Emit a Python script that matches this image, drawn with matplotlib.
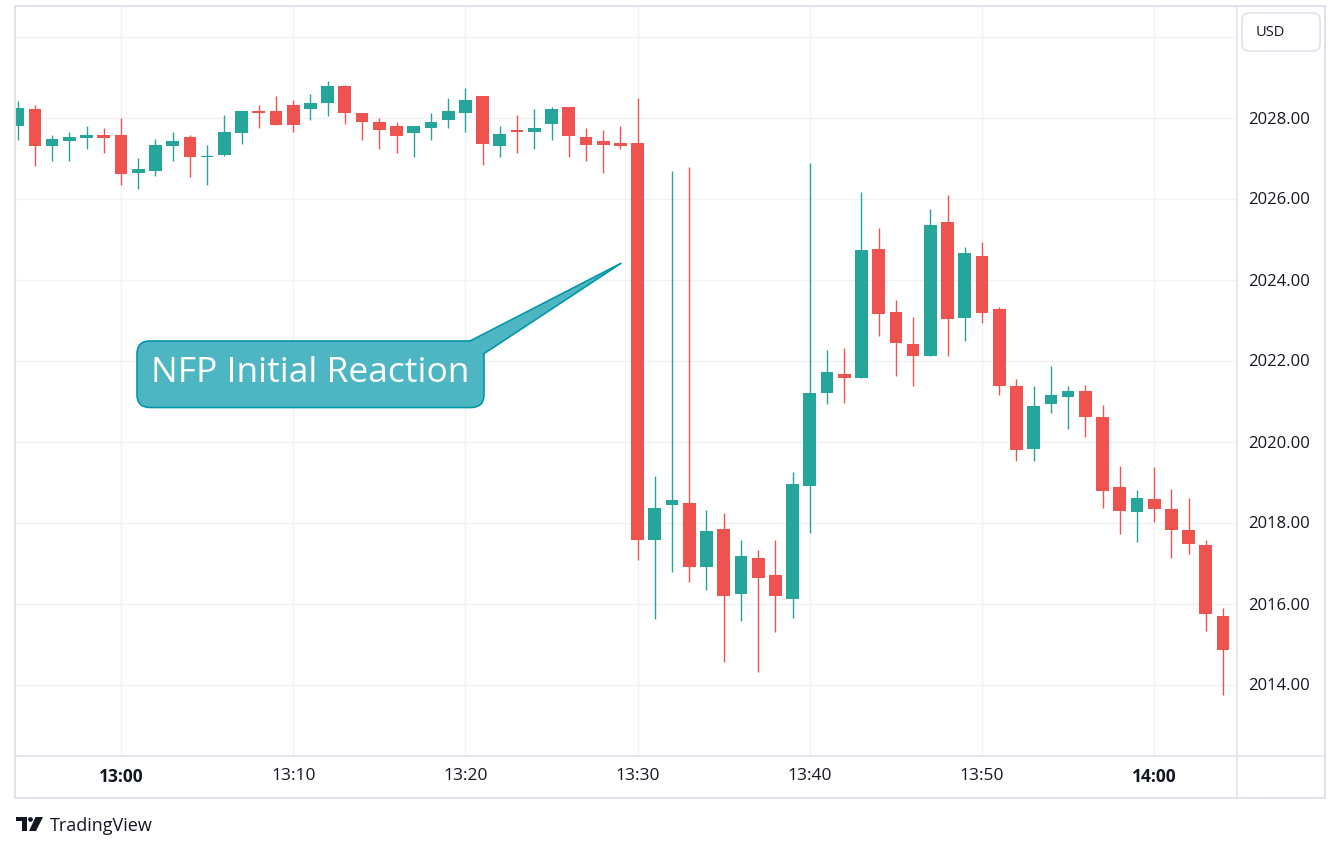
import numpy as np
import pandas as pd
import matplotlib
matplotlib.use('Agg')
import matplotlib.pyplot as plt
from matplotlib.patches import FancyBboxPatch, Polygon, Rectangle, Circle
from matplotlib.lines import Line2D
from matplotlib.transforms import Affine2D

# ---------------- data ----------------
times = pd.date_range('2024-02-02 12:54', '2024-02-02 14:04', freq='1min')

opens = [2027.79, 2028.20, 2027.29, 2027.42, 2027.49, 2027.56, 2027.58, 2026.63, 2026.68, 2027.29,
         2027.53, 2027.02, 2027.07, 2027.61, 2028.17, 2028.17, 2028.30, 2028.21, 2028.35, 2028.77,
         2028.10, 2027.90, 2027.78, 2027.61, 2027.74, 2027.93, 2028.11, 2028.54, 2027.29, 2027.68,
         2027.64, 2027.84, 2028.25, 2027.53, 2027.41, 2027.36, 2027.38, 2017.56, 2018.44, 2018.49,
         2016.91, 2017.85, 2016.24, 2017.13, 2016.71, 2016.12, 2018.91, 2021.20, 2021.67, 2021.58,
         2024.75, 2023.20, 2022.41, 2022.12, 2025.42, 2023.06, 2024.58, 2023.27, 2021.37, 2019.82,
         2020.93, 2021.11, 2021.25, 2020.61, 2018.88, 2018.27, 2018.57, 2018.33, 2017.82, 2017.44,
         2015.69]
highs = [2028.40, 2028.30, 2027.58, 2027.63, 2027.80, 2027.75, 2028.00, 2026.99, 2027.48, 2027.63,
         2027.56, 2027.33, 2028.07, 2028.17, 2028.32, 2028.52, 2028.44, 2028.57, 2028.89, 2028.81,
         2028.10, 2027.98, 2027.90, 2027.80, 2028.12, 2028.47, 2028.74, 2028.54, 2027.80, 2028.07,
         2028.22, 2028.25, 2028.25, 2027.73, 2027.70, 2027.80, 2028.49, 2019.15, 2026.69, 2026.79,
         2018.31, 2018.24, 2017.57, 2017.33, 2017.57, 2019.25, 2026.88, 2022.27, 2022.31, 2026.16,
         2025.27, 2023.49, 2023.07, 2025.74, 2026.09, 2024.80, 2024.93, 2023.32, 2021.54, 2021.37,
         2021.87, 2021.37, 2021.40, 2020.90, 2019.40, 2018.80, 2019.37, 2018.83, 2018.60, 2017.58,
         2015.89]
lows = [2027.44, 2026.81, 2026.92, 2026.92, 2027.22, 2027.12, 2026.33, 2026.23, 2026.55, 2026.92,
        2026.53, 2026.33, 2027.04, 2027.34, 2027.73, 2027.81, 2027.64, 2027.93, 2028.03, 2027.83,
        2027.44, 2027.22, 2027.12, 2027.02, 2027.44, 2027.74, 2027.64, 2026.82, 2027.02, 2027.12,
        2027.22, 2027.44, 2027.02, 2026.92, 2026.63, 2027.22, 2017.08, 2015.61, 2016.77, 2016.52,
        2016.34, 2014.56, 2015.58, 2014.32, 2015.30, 2015.65, 2017.75, 2020.93, 2020.96, 2021.58,
        2022.61, 2021.62, 2021.38, 2022.12, 2022.10, 2022.47, 2022.93, 2021.16, 2019.53, 2019.53,
        2020.71, 2020.32, 2020.12, 2018.37, 2017.72, 2017.53, 2018.02, 2017.13, 2017.23, 2015.33,
        2013.75]
closes = [2028.24, 2027.29, 2027.48, 2027.51, 2027.56, 2027.49, 2026.60, 2026.72, 2027.31, 2027.41,
          2027.02, 2027.04, 2027.63, 2028.17, 2028.11, 2027.81, 2027.81, 2028.37, 2028.77, 2028.11,
          2027.88, 2027.69, 2027.54, 2027.80, 2027.88, 2028.15, 2028.42, 2027.34, 2027.60, 2027.65,
          2027.75, 2028.20, 2027.54, 2027.32, 2027.32, 2027.29, 2017.56, 2018.36, 2018.55, 2016.91,
          2017.79, 2016.19, 2017.18, 2016.64, 2016.19, 2018.96, 2021.20, 2021.71, 2021.58, 2024.73,
          2023.16, 2022.44, 2022.12, 2025.35, 2023.03, 2024.66, 2023.18, 2021.38, 2019.80, 2020.88,
          2021.15, 2021.25, 2020.61, 2018.79, 2018.29, 2018.60, 2018.34, 2017.82, 2017.48, 2015.75,
          2014.84]

price_ticks = [2014, 2016, 2018, 2020, 2022, 2024, 2026, 2028, 2030]
price_labels = ['2014.00', '2016.00', '2018.00', '2020.00', '2022.00', '2024.00', '2026.00', '2028.00', '']
time_ticks = ['13:00', '13:10', '13:20', '13:30', '13:40', '13:50', '14:00']
bold_ticks = ['13:00', '14:00']
annotation_text = 'NFP Initial Reaction'
currency = 'USD'

# ---------------- style ----------------
W, H = 1341, 851
UP = '#26A69A'
DOWN = '#EF5350'
GRID = '#F1F2F5'
FRAME = '#E0E3EB'
TXT = '#131722'
plt.rcParams['font.family'] = ['Open Sans', 'DejaVu Sans']

fig = plt.figure(figsize=(W / 100, H / 100), dpi=100)
fig.patch.set_facecolor('white')

# pixel transform: (x from left, y from top) -> display
PX = Affine2D().scale(1, -1).translate(0, H)

ax_left, ax_right, ax_top, ax_bottom = 16, 1237, 6, 756
ax = fig.add_axes([ax_left / W, (H - ax_bottom) / H, (ax_right - ax_left) / W, (ax_bottom - ax_top) / H])

t0 = pd.Timestamp('2024-02-02 13:00')
x = np.array([(t - t0).total_seconds() / 60 for t in times])
o = np.array(opens); h = np.array(highs); l = np.array(lows); c = np.array(closes)
up = c >= o
colors = np.where(up, UP, DOWN)

px_per_min = 17.22
xmin = (ax_left - 121) / px_per_min
xmax = xmin + (ax_right - ax_left) / px_per_min
px_per_unit = 40.5
ymax = 2028 + (117.5 - ax_top) / px_per_unit
ymin = 2028 - (ax_bottom - 117.5) / px_per_unit

ax.set_xlim(xmin, xmax)
ax.set_ylim(ymin, ymax)

body_bot = np.minimum(o, c)
body_h = np.maximum(np.abs(c - o), 0.03)
ax.vlines(x, l, h, colors=colors, linewidth=1.0, zorder=2)
ax.bar(x, body_h, bottom=body_bot, width=0.74, color=colors, edgecolor='none', zorder=3)

# grid
ax.set_yticks(price_ticks)
ax.set_yticklabels(price_labels)
tick_pos = [(pd.Timestamp('2024-02-02 ' + s) - t0).total_seconds() / 60 for s in time_ticks]
ax.set_xticks(tick_pos)
ax.set_xticklabels(time_ticks)
for lab in ax.get_xticklabels():
    if lab.get_text() in bold_ticks:
        lab.set_fontweight('bold')
ax.grid(True, color=GRID, linewidth=1.0, zorder=0)
ax.set_axisbelow(True)
for s in ax.spines.values():
    s.set_visible(False)
ax.yaxis.tick_right()
ax.tick_params(axis='y', length=0, pad=8, labelsize=12, labelcolor=TXT)
ax.tick_params(axis='x', length=0, pad=9, labelsize=12.5, labelcolor=TXT)
for lab in ax.get_yticklabels():
    lab.set_horizontalalignment('left')

# frame lines
def line(xs, ys, **kw):
    fig.add_artist(Line2D(xs, ys, transform=PX, color=FRAME, **kw))

fig.add_artist(Rectangle((15, 6), 1325 - 15, 798 - 6, transform=PX, fill=False,
                         edgecolor=FRAME, linewidth=1.5))
line([15, 1325], [756, 756], linewidth=1.2)
line([1237, 1237], [6, 798], linewidth=1.2)

# currency box
fig.add_artist(FancyBboxPatch((1242, 13), 78, 38, boxstyle='round,pad=0,rounding_size=7',
                              transform=PX, facecolor='white', edgecolor=FRAME, linewidth=1.2))
fig.text(1256 / W, (H - 32) / H, currency, ha='left', va='center', fontsize=10.5, color=TXT)

# callout
CFILL = '#4DB6C2'
CEDGE = '#0097A7'
fig.add_artist(FancyBboxPatch((137, 341), 484 - 137, 407.5 - 341,
                              boxstyle='round,pad=0,rounding_size=13', transform=PX,
                              facecolor=CFILL, edgecolor=CEDGE, linewidth=1.2, zorder=5))
tri = [(470, 341.6), (621, 263.3), (483.4, 354)]
fig.add_artist(Polygon(tri, closed=True, transform=PX, facecolor=CFILL, edgecolor='none', zorder=6))
fig.add_artist(Line2D([470, 621, 483.4], [341, 263.3, 354], transform=PX, color=CEDGE,
                      linewidth=1.2, zorder=7))
fig.text(310.5 / W, (H - 373) / H, annotation_text, ha='center', va='center',
         fontsize=25.5, color='white', zorder=8)

# TradingView logo
LOGO = '#131722'
fig.add_artist(Rectangle((16, 817), 11, 4, transform=PX, facecolor=LOGO, edgecolor='none'))
fig.add_artist(Rectangle((22, 817), 5, 14, transform=PX, facecolor=LOGO, edgecolor='none'))
fig.add_artist(Circle((30.5, 819.5), 2.4, transform=PX, facecolor=LOGO, edgecolor='none'))
fig.add_artist(Polygon([(35.5, 817), (43, 817), (36, 831), (29, 831)], closed=True,
                       transform=PX, facecolor=LOGO, edgecolor='none'))
fig.text(50 / W, (H - 831) / H, 'TradingView', ha='left', va='baseline', fontsize=13, color=LOGO)

fig.savefig('out.png', dpi=100, facecolor='white')
